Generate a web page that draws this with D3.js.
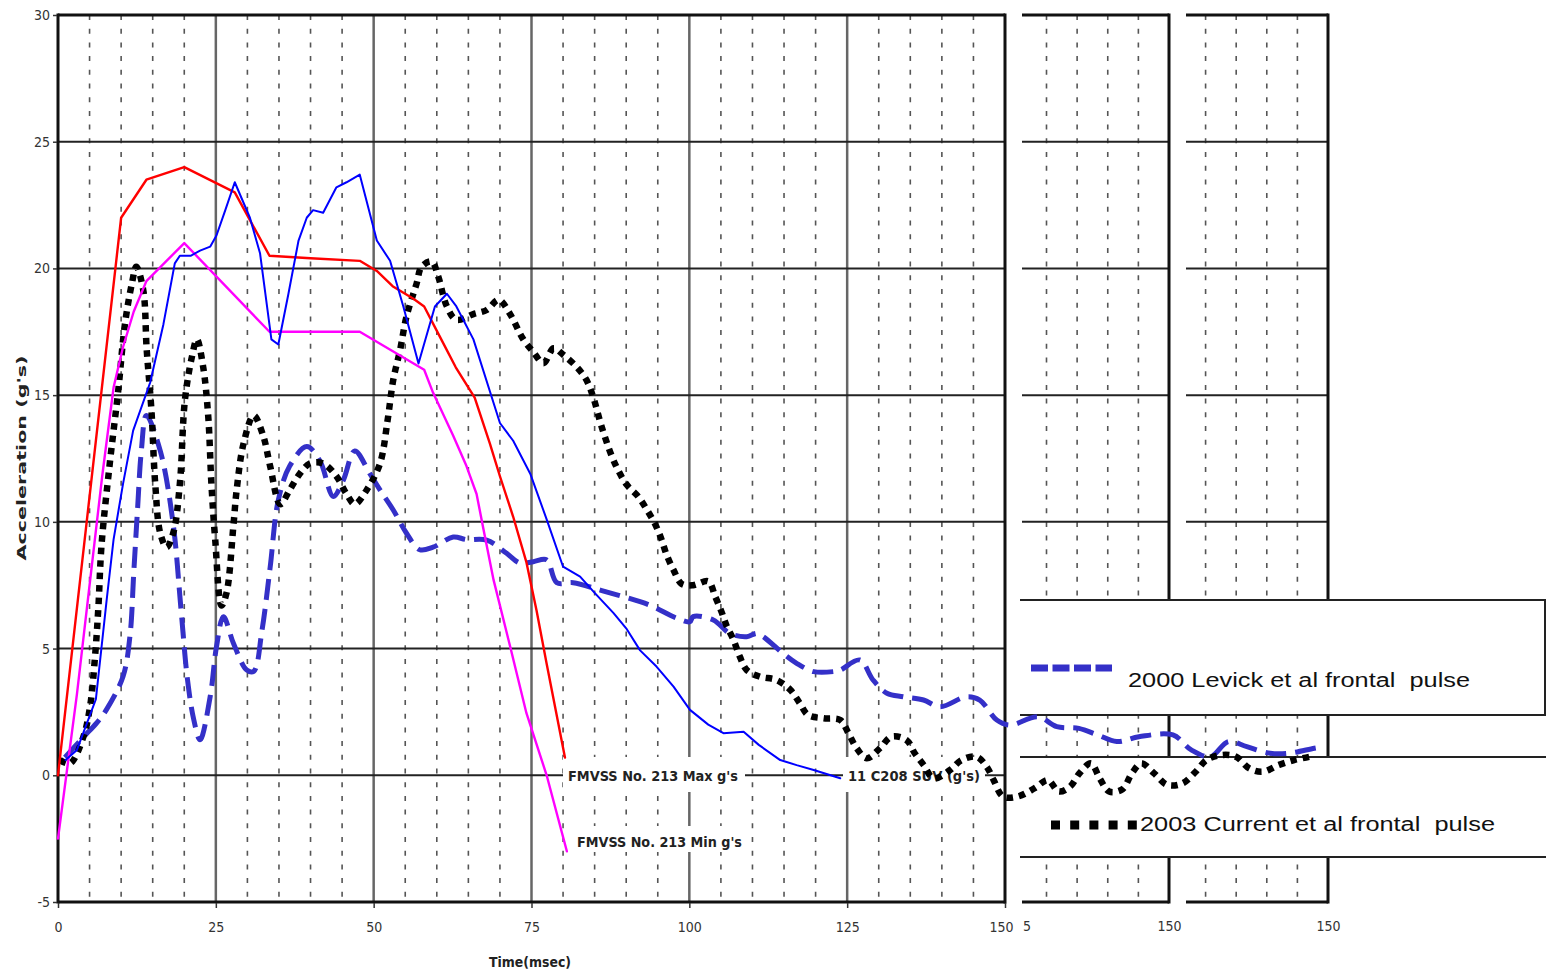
<!DOCTYPE html>
<html><head><meta charset="utf-8">
<script src="https://cdn.jsdelivr.net/npm/d3@7"></script>
<style>html,body{margin:0;padding:0;background:#fff;}svg{display:block;}</style>
</head><body>
<svg id="c" width="1546" height="975"></svg>
<script>
// ---------- data ----------
const yTicks = [-5, 0, 5, 10, 15, 20, 25, 30];
const xTicks = [0, 25, 50, 75, 100, 125, 150];
const xMinor = [5,10,15,20,30,35,40,45,55,60,65,70,80,85,90,95,105,110,115,120,130,135,140,145];
const panelMinor = [130, 135, 140, 145];
const panel2Ticks = [125, 150];
const panel2TickText = ["5", "150"];   // the "125" label is cut off by the panel edge: only "5" shows
const panel3Ticks = [150];
const panel3TickText = ["150"];

const fmvssMax = [[0,0],[10,22],[14,23.5],[20,24],[28,23],[33.5,20.5],[40,20.4],[47.8,20.3],[50.5,19.9],[53,19.3],[56.3,18.8],[58,18.5],[60.5,17.3],[63,16.1],[66,14.9],[68.4,13.1],[70,11.8],[72.1,10.2],[74.2,8.4],[75.8,6.5],[77.4,4.4],[80.3,0.7]];
const fmvssMin = [[0,-2.5],[3,3.2],[5,7.5],[7,11.8],[8.8,15.3],[10.3,16.9],[12,18.3],[14,19.5],[20,21],[33.5,17.5],[47.8,17.5],[58,16],[59.4,15.1],[62.6,13.4],[64.7,12.2],[66.3,11.1],[67.4,9.7],[69,7.7],[71.6,5.1],[74.2,2.45],[77.4,0],[80.6,-3]];
const suvG = [[1.2,0.6],[3,1.0],[6,3],[7.7,6.9],[8.8,9.3],[10.3,11.5],[11.9,13.6],[14.6,15.5],[16.7,17.8],[18.5,20.2],[19.3,20.5],[21,20.5],[22.5,20.7],[24.1,20.86],[25.1,21.3],[26.5,22.3],[28,23.4],[30.4,22.0],[32,20.6],[33.8,17.2],[34.9,17.0],[36.5,19.0],[38.1,21.1],[39.4,22.0],[40.4,22.3],[42,22.2],[44.1,23.2],[45.7,23.4],[47.8,23.7],[50.5,21.1],[52.6,20.3],[54.7,18.5],[57.1,16.25],[59.7,18.5],[61.6,19.0],[63.1,18.5],[65.8,17.2],[70,13.9],[72.1,13.2],[74.8,11.9],[77.4,10.1],[80,8.23],[82.7,7.84],[85,7.2],[88,6.4],[90,5.8],[92.2,4.93],[94.8,4.29],[97.5,3.5],[100.1,2.58],[103,2.0],[105.4,1.66],[108.6,1.72],[111,1.2],[114.4,0.6],[117,0.4],[119.7,0.21],[123.9,-0.12]];
const levickG = [[1.1,0.7],[4,1.5],[6.1,2.06],[7.7,2.6],[10.3,3.9],[11.4,5.5],[12,8],[12.6,10.5],[13.2,12.8],[14,14.2],[16.2,12.8],[18.2,10],[19.5,6.5],[20.5,3.8],[21.5,2.2],[22.5,1.4],[24.1,3.1],[25.1,5.07],[26.2,6.26],[27.8,5.2],[29.9,4.15],[31,4.1],[32.3,5.7],[33.6,8.2],[34.9,10.86],[36.7,12.2],[39.4,12.97],[41.5,12.4],[43.6,11.0],[45.2,11.65],[47,12.8],[49.4,11.9],[51,11.26],[53.1,10.47],[55.2,9.55],[57.3,8.9],[59.4,9.0],[62.6,9.4],[64.7,9.3],[67.9,9.28],[71,8.77],[73.2,8.37],[75.3,8.43],[77.4,8.5],[79,7.6],[81.6,7.6],[86,7.3],[92.2,6.85],[94.3,6.65],[98,6.2],[100.1,6.06],[100.6,6.26],[103.8,6.13],[106.4,5.6],[109.1,5.47],[110.7,5.6],[111.7,5.47],[114.9,4.8],[117,4.42],[119.7,4.09],[122.8,4.09],[123.9,4.15],[127,4.55],[129.1,3.76],[131.3,3.24],[133.9,3.1],[137.1,2.97],[139.7,2.7],[143.9,3.1],[146,2.97],[148.7,2.18],[150.8,1.98],[155.2,2.31],[158.2,1.92],[161.7,1.85],[164.7,1.59],[167.7,1.33],[171.2,1.52],[176.6,1.59],[179.5,1.0],[182.5,0.73],[185.4,1.33],[188.3,1.13],[192,0.87],[194.9,0.87],[199,1.07],[200.5,1.13]];
const currentG = [[0.3,0.6],[1.9,0.47],[4,1.5],[5.07,2.7],[5.87,4.7],[6.4,6.65],[6.9,9.1],[8.2,12.3],[9.55,15.2],[10.6,17.8],[11.7,19.4],[12.4,20.07],[13.5,19.15],[14.05,16.8],[14.8,14.4],[15.4,11.5],[16.2,9.55],[17.2,9.0],[18.3,9.6],[19.3,11.5],[20.1,14.8],[21.2,16.5],[22,17.2],[23,16.1],[23.8,14.15],[24.3,11.5],[24.9,9.3],[25.9,6.7],[26.7,7.2],[27.8,9.9],[28.3,11.26],[29.4,13.1],[31,14.2],[32.5,13.4],[33.6,12.2],[35.2,10.7],[36.7,11.26],[38.3,11.9],[39.9,12.3],[42,12.3],[44.1,11.8],[45.7,11.1],[47,10.7],[48.9,11.26],[51,12.3],[52.2,14.0],[53.1,15.6],[54.2,16.8],[55.2,18.1],[56.8,19.4],[57.6,20.07],[59.2,20.27],[60.2,19.7],[61.6,18.5],[63.1,17.97],[65.8,18.2],[67.9,18.36],[69.8,18.76],[71.6,18.2],[73.7,17.2],[75.3,16.7],[76.9,16.26],[78.5,16.85],[80,16.6],[82.2,16.1],[83.7,15.6],[84.8,14.9],[86.1,13.76],[87.7,12.6],[88.8,12.0],[90.1,11.46],[91.9,11.0],[93.3,10.47],[94.6,9.9],[95.6,9.3],[96.4,8.7],[97.5,8.1],[98.8,7.55],[100.6,7.5],[103,7.65],[104.1,7.05],[105.1,6.45],[105.9,5.9],[107,5.34],[108,4.68],[109.1,4.15],[111.2,3.89],[113.8,3.76],[116,3.37],[117.5,2.84],[118.8,2.38],[121.2,2.25],[123.9,2.18],[125.2,1.66],[126.5,1.07],[128.1,0.67],[130.2,1.07],[132,1.52],[134.4,1.39],[135.7,0.87],[137.1,0.41],[138.7,-0.12],[141.3,0.21],[143.1,0.6],[145.5,0.73],[147.1,0.34],[148.2,-0.19],[149.7,-0.84],[152,-0.84],[154.7,-0.51],[156.8,-0.19],[158.5,-0.64],[160.3,-0.45],[161.8,0.08],[163.6,0.47],[165,-0.12],[166.5,-0.64],[168.6,-0.55],[170.1,0.08],[171.6,0.47],[173.6,0.08],[175.7,-0.38],[178.1,-0.32],[180.2,0.14],[181.9,0.6],[184.3,0.8],[186.6,0.73],[188.7,0.27],[190.8,0.14],[193.4,0.41],[195.8,0.6],[198.2,0.73]];

const annotLabels = ["FMVSS No. 213 Max g's", "FMVSS No. 213 Min g's", "11 C208 SUV (g's)"];
const legendLabels = ["2000 Levick et al frontal  pulse", "2003 Current et al frontal  pulse"];
const xTitle = "Time(msec)";
const yTitle = "Acceleration (g's)";

// ---------- setup ----------
const svg = d3.select("#c");
const x = d3.scaleLinear().domain([0,150]).range([58,1005]);
const y = d3.scaleLinear().domain([-5,30]).range([902,15]);
const p2x = d3.scaleLinear().domain([126,150]).range([1022,1169]);
const p3x = d3.scaleLinear().domain([126.8,150]).range([1186,1328]);
const narrow = "'Liberation Sans Narrow','Arial Narrow','DejaVu Sans Condensed',sans-serif";
const MINOR_DASH = "5,8.7";
const TICK_FS = 14;

svg.append("rect").attr("width",1546).attr("height",975).attr("fill","#fff");

// ---------- panel grids (extra fragments to the right) ----------
function drawPanel(px, ticks, tickText) {
  const g = svg.append("g");
  const [x0, x1] = px.range();
  g.selectAll(".pm").data(panelMinor).join("line")
    .attr("x1", d=>px(d)).attr("x2", d=>px(d)).attr("y1", y(30)).attr("y2", y(-5))
    .attr("stroke","#555").attr("stroke-width",1.6).attr("stroke-dasharray",MINOR_DASH);
  g.selectAll(".ph").data(yTicks).join("line")
    .attr("x1", x0).attr("x2", x1).attr("y1", d=>y(d)).attr("y2", d=>y(d))
    .attr("stroke", d=>(d===30||d===-5)?"#111":"#222")
    .attr("stroke-width", d=>(d===30||d===-5)?3:2);
  g.append("line").attr("x1",x1).attr("x2",x1).attr("y1",y(30)-1.5).attr("y2",y(-5)+1.5)
    .attr("stroke","#111").attr("stroke-width",3);
  const ax = svg.append("g").attr("transform",`translate(0,${y(-5)})`)
    .call(d3.axisBottom(px).tickValues(ticks).tickSize(0).tickPadding(19)
      .tickFormat((d,i)=>tickText[i]));
  ax.select(".domain").remove();
  ax.selectAll("text").attr("font-family",narrow).attr("font-size",TICK_FS).attr("fill","#333")
    .attr("text-anchor",(d,i)=>tickText[i]===String(d)?"middle":"start")
    .attr("x",(d,i)=>tickText[i]===String(d)?0:(x0-px(d)+0.5));
}
drawPanel(p2x, panel2Ticks, panel2TickText);
drawPanel(p3x, panel3Ticks, panel3TickText);

// ---------- main grid ----------
const grid = svg.append("g");
grid.selectAll(".mn").data(xMinor).join("line")
  .attr("x1", d=>x(d)).attr("x2", d=>x(d)).attr("y1", y(30)).attr("y2", y(-5))
  .attr("stroke","#555").attr("stroke-width",1.6).attr("stroke-dasharray",MINOR_DASH);
grid.selectAll(".mj").data(xTicks.filter(d=>d>0&&d<150)).join("line")
  .attr("x1", d=>x(d)).attr("x2", d=>x(d)).attr("y1", y(30)).attr("y2", y(-5))
  .attr("stroke","#666").attr("stroke-width",2.5);
grid.selectAll(".hz").data(yTicks).join("line")
  .attr("x1", x(0)).attr("x2", x(150)).attr("y1", d=>y(d)).attr("y2", d=>y(d))
  .attr("stroke", d=>(d===30||d===-5)?"#111":"#222")
  .attr("stroke-width", d=>(d===30||d===-5)?3:2);
grid.selectAll(".bd").data([0,150]).join("line")
  .attr("x1", d=>x(d)).attr("x2", d=>x(d)).attr("y1", y(30)-1.5).attr("y2", y(-5)+1.5)
  .attr("stroke","#111").attr("stroke-width",3);

// axes
const yAx = svg.append("g").attr("transform",`translate(${x(0)-1},0)`)
  .call(d3.axisLeft(y).tickValues(yTicks).tickSize(4).tickPadding(3).tickFormat(d=>String(d)));
yAx.select(".domain").remove();
yAx.selectAll("line").attr("stroke","#333").attr("stroke-width",1.5);
yAx.selectAll("text").attr("font-family",narrow).attr("font-size",TICK_FS).attr("fill","#333");
const xAx = svg.append("g").attr("transform",`translate(0,${y(-5)+1})`)
  .call(d3.axisBottom(x).tickValues(xTicks).tickSize(5).tickPadding(14).tickFormat(d=>String(d)));
xAx.select(".domain").remove();
xAx.selectAll("line").attr("stroke","#333").attr("stroke-width",1.5);
xAx.selectAll("text").attr("font-family",narrow).attr("font-size",TICK_FS).attr("fill","#333");
// the last main label sits a little left so it doesn't run into the panel's cut label
xAx.selectAll(".tick").filter(d=>d===150).select("text").attr("x",-4);

// titles
svg.append("text").attr("x",530).attr("y",967).attr("text-anchor","middle")
  .attr("font-family",narrow).attr("font-weight","bold").attr("font-size",14).attr("fill","#222")
  .attr("textLength",82).attr("lengthAdjust","spacingAndGlyphs").text(xTitle);
svg.append("text").attr("transform","translate(26,458) rotate(-90)").attr("text-anchor","middle")
  .attr("font-family",narrow).attr("font-weight","bold").attr("font-size",13).attr("fill","#222")
  .attr("textLength",205).attr("lengthAdjust","spacingAndGlyphs").text(yTitle);

// ---------- legend boxes (white, cover panel grids) ----------
const boxes = [{y0:600,y1:715,right:true},{y0:757,y1:857,right:false}];
boxes.forEach(b=>{
  svg.append("rect").attr("x",1020).attr("y",b.y0).attr("width",526).attr("height",b.y1-b.y0).attr("fill","#fff");
  svg.append("line").attr("x1",1020).attr("x2",1546).attr("y1",b.y0).attr("y2",b.y0).attr("stroke","#222").attr("stroke-width",2);
  svg.append("line").attr("x1",1020).attr("x2",1546).attr("y1",b.y1).attr("y2",b.y1).attr("stroke","#222").attr("stroke-width",2);
  if (b.right) svg.append("line").attr("x1",1545).attr("x2",1545).attr("y1",b.y0).attr("y2",b.y1).attr("stroke","#222").attr("stroke-width",2);
});

// ---------- annotation labels with white backing ----------
const annots = [
  {t:annotLabels[0], bx:[563,745], by:[757,792], tx:568, ty:781, len:170},
  {t:annotLabels[1], bx:[574,745], by:[826,852], tx:577, ty:847, len:165},
  {t:annotLabels[2], bx:[843,985], by:[757,792], tx:848, ty:781, len:132}
];
annots.forEach(a=>{
  svg.append("rect").attr("x",a.bx[0]).attr("y",a.by[0]).attr("width",a.bx[1]-a.bx[0]).attr("height",a.by[1]-a.by[0]).attr("fill","#fff");
  svg.append("text").attr("x",a.tx).attr("y",a.ty).attr("font-family",narrow).attr("font-weight","bold")
    .attr("font-size",14).attr("fill","#222").attr("textLength",a.len).attr("lengthAdjust","spacingAndGlyphs").text(a.t);
});

// ---------- data lines ----------
const lineLin = d3.line().x(d=>x(d[0])).y(d=>y(d[1]));
const lineSm = d3.line().x(d=>x(d[0])).y(d=>y(d[1])).curve(d3.curveCatmullRom.alpha(0.5));
const series = [
  {d:levickG, gen:lineSm, c:"#3430c8", w:5, dash:"21,9", cap:"butt"},
  {d:currentG, gen:lineSm, c:"#000", w:6.5, dash:"6.5,6", cap:"butt"},
  {d:fmvssMin, gen:lineLin, c:"#ff00ff", w:2.4},
  {d:fmvssMax, gen:lineLin, c:"#ff0000", w:2.4},
  {d:suvG, gen:lineLin, c:"#0000ff", w:2}
];
series.forEach(s=>{
  svg.append("path").attr("d", s.gen(s.d)).attr("fill","none").attr("stroke",s.c)
    .attr("stroke-width",s.w).attr("stroke-dasharray",s.dash||null).attr("stroke-linecap",s.cap||"round")
    .attr("stroke-linejoin","round");
});

// ---------- legend samples and text ----------
svg.append("line").attr("x1",1031).attr("x2",1112).attr("y1",668).attr("y2",668)
  .attr("stroke","#3430c8").attr("stroke-width",7).attr("stroke-dasharray","17,4.5");
svg.append("line").attr("x1",1051).attr("x2",1137).attr("y1",825).attr("y2",825)
  .attr("stroke","#000").attr("stroke-width",9).attr("stroke-dasharray","9,10.2");
svg.append("text").attr("x",1128).attr("y",687).attr("font-family","'Liberation Sans',Arial,sans-serif")
  .attr("font-size",20).attr("fill","#111").attr("xml:space","preserve").style("white-space","pre")
  .attr("textLength",342).attr("lengthAdjust","spacingAndGlyphs").text(legendLabels[0]);
svg.append("text").attr("x",1140).attr("y",831).attr("font-family","'Liberation Sans',Arial,sans-serif")
  .attr("font-size",20).attr("fill","#111").attr("xml:space","preserve").style("white-space","pre")
  .attr("textLength",355).attr("lengthAdjust","spacingAndGlyphs").text(legendLabels[1]);
</script>
</body></html>
